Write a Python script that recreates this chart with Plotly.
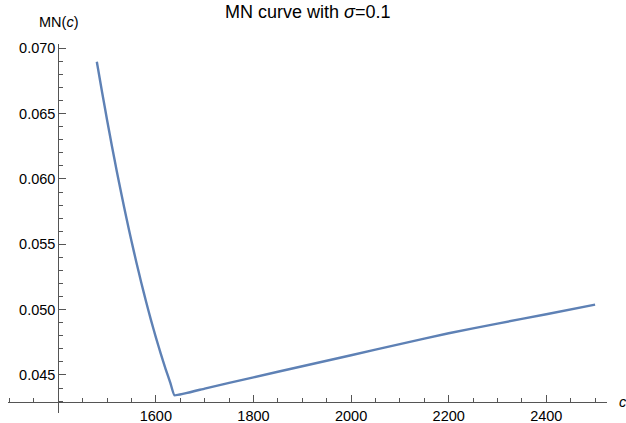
import plotly.graph_objects as go

# Data
c_values = [1479, 1490, 1500, 1510, 1520, 1530, 1540, 1550, 1560, 1570, 1580,
            1590, 1600, 1610, 1620, 1630, 1638,
            1700, 1800, 1900, 2000, 2100, 2200, 2300, 2400, 2500]
mn_values = [0.06897, 0.06660, 0.06452, 0.06251, 0.06058, 0.05873, 0.05695, 0.05525,
             0.05363, 0.05208, 0.05060, 0.04920, 0.04788, 0.04663, 0.04545, 0.04436, 0.04345,
             0.04396, 0.04482, 0.04567, 0.04651, 0.04736, 0.04819, 0.04893, 0.04965, 0.05038]

x_tick_vals = [1600, 1800, 2000, 2200, 2400]
y_tick_vals = [0.045, 0.050, 0.055, 0.060, 0.065, 0.070]
y_tick_text = ["0.045", "0.050", "0.055", "0.060", "0.065", "0.070"]

x_range = [1297, 2524.4]
y_range = [0.04209, 0.07033]
x_origin = 1400
y_origin = 0.04291

FONT = "Liberation Sans, Arial, Helvetica, sans-serif"
AXIS_COLOR = "#555555"
LINE_COLOR = "#5E81B5"

fig = go.Figure()
fig.add_trace(go.Scatter(x=c_values, y=mn_values, mode="lines",
                         line=dict(color=LINE_COLOR, width=2.4, shape="spline", smoothing=0.3),
                         hoverinfo="skip", showlegend=False))

x_pos = (x_origin - x_range[0]) / (x_range[1] - x_range[0])
y_pos = (y_origin - y_range[0]) / (y_range[1] - y_range[0])

fig.update_layout(
    width=626, height=423,
    margin=dict(l=8, r=19.3, t=44, b=10, autoexpand=False),
    paper_bgcolor="white", plot_bgcolor="white",
    font=dict(family=FONT, size=14.5, color="black"),
    xaxis=dict(range=x_range, showgrid=False, zeroline=False, automargin=False,
               showline=True, linecolor=AXIS_COLOR, linewidth=1,
               anchor="free", position=y_pos,
               tickmode="array", tickvals=x_tick_vals,
               ticks="inside", ticklen=7, tickcolor=AXIS_COLOR, tickwidth=1,
               minor=dict(ticks="inside", ticklen=4, dtick=50, tick0=0,
                          tickcolor=AXIS_COLOR, showgrid=False),
               tickfont=dict(family=FONT, size=14.5, color="black"),
               fixedrange=True),
    yaxis=dict(range=y_range, showgrid=False, zeroline=False, automargin=False,
               showline=True, linecolor=AXIS_COLOR, linewidth=1,
               anchor="free", position=x_pos,
               tickmode="array", tickvals=y_tick_vals, ticktext=y_tick_text,
               ticks="inside", ticklen=7, tickcolor=AXIS_COLOR, tickwidth=1,
               minor=dict(ticks="inside", ticklen=4, dtick=0.001, tick0=0,
                          tickcolor=AXIS_COLOR, showgrid=False),
               tickfont=dict(family=FONT, size=14.5, color="black"),
               fixedrange=True),
)

fig.add_annotation(text="MN curve with <i>σ</i>=0.1", xref="paper", yref="paper",
                   x=0.5, y=1 + 44 / 369, xanchor="center", yanchor="top",
                   showarrow=False, font=dict(family=FONT, size=18, color="black"))
fig.add_annotation(text="MN(<i>c</i>)", xref="x", yref="paper",
                   x=x_origin, y=1 + (44 - 22) / 369, xanchor="center", yanchor="middle",
                   showarrow=False, font=dict(family=FONT, size=14.5, color="black"))
fig.add_annotation(text="<i>c</i>", xref="paper", yref="y",
                   x=1 + 10 / 598.7, y=y_origin, xanchor="left", yanchor="middle",
                   showarrow=False, font=dict(family=FONT, size=14.5, color="black"))

fig.write_html("out.html", config={"displayModeBar": False},
               post_script="document.body.style.margin='0';document.body.style.overflow='hidden';")
